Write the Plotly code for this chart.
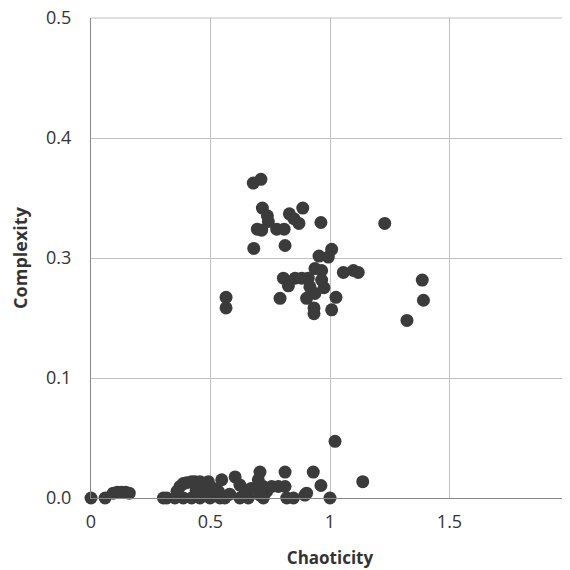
import plotly.graph_objects as go

# Upper cluster (chaoticity, complexity)
upper_x = [0.679, 0.711, 0.717, 0.738, 0.742, 0.696, 0.714, 0.777, 0.808, 0.830,
           0.849, 0.870, 0.886, 0.962, 1.229, 0.681, 0.812, 0.954, 0.993, 1.007,
           0.937, 0.965, 1.056, 1.098, 1.118, 1.386, 1.391, 1.322, 0.565, 0.565,
           0.791, 0.805, 0.826, 0.854, 0.882, 0.909, 0.916, 0.937, 0.902, 0.965,
           0.975, 1.025, 0.933, 0.933, 1.007]
upper_y = [0.328, 0.332, 0.302, 0.294, 0.288, 0.280, 0.279, 0.280, 0.280, 0.296,
           0.291, 0.286, 0.302, 0.287, 0.286, 0.260, 0.263, 0.252, 0.251, 0.259,
           0.239, 0.237, 0.235, 0.237, 0.235, 0.227, 0.206, 0.185, 0.209, 0.198,
           0.208, 0.229, 0.221, 0.229, 0.229, 0.229, 0.220, 0.213, 0.208, 0.227,
           0.219, 0.209, 0.198, 0.192, 0.196]

# Lower cluster
lower_x = [0.0, 0.059, 0.093, 0.110, 0.128, 0.145, 0.160,
           0.303, 0.317, 0.351, 0.386, 0.421, 0.456, 0.498, 0.540,
           0.372, 0.386, 0.400, 0.421, 0.435, 0.456, 0.491, 0.547,
           0.512, 0.533, 0.360, 0.440, 0.470,
           0.603, 0.623, 0.644, 0.623, 0.658,
           0.707, 0.693, 0.721, 0.707, 0.735,
           0.700, 0.756, 0.784, 0.721, 0.812, 0.812, 0.819, 0.847, 0.895, 0.902,
           0.930, 0.962, 1.000, 1.021, 1.137, 0.580, 0.560, 0.670]
lower_y = [0.0, 0.0, 0.005, 0.006, 0.006, 0.006, 0.005,
           0.0, 0.0, 0.0, 0.0, 0.0, 0.0, 0.0, 0.0,
           0.012, 0.015, 0.016, 0.017, 0.017, 0.017, 0.017, 0.019,
           0.010, 0.007, 0.007, 0.008, 0.006,
           0.022, 0.0135, 0.005, 0.0, 0.0,
           0.027, 0.010, 0.012, 0.003, 0.007,
           0.019, 0.012, 0.012, 0.0, 0.027, 0.012, 0.0, 0.0, 0.003, 0.005,
           0.027, 0.013, 0.0, 0.059, 0.017, 0.004, 0.0, 0.010]

x_ticks = [0, 0.5, 1, 1.5, 2]
x_tick_text = ["0", "0.5", "1", "1.5", "2"]
y_ticks = [0, 0.125, 0.25, 0.375, 0.5]
y_tick_text = ["0.0", "0.1", "0.3", "0.4", "0.5"]

xs = upper_x + lower_x
ys = upper_y + lower_y

fig = go.Figure()
fig.add_trace(go.Scatter(
    x=xs, y=ys, mode="markers",
    marker=dict(size=13, color="#3b3b3b", line=dict(width=0)),
    showlegend=False, cliponaxis=False,
))

grid_color = "#C0C0C0"
# outer frame lines at the range ends (top and right gridlines)
fig.add_shape(type="line", xref="paper", yref="paper", x0=0, x1=1, y0=1, y1=1,
              line=dict(color=grid_color, width=1), layer="below")
fig.add_shape(type="line", xref="paper", yref="paper", x0=1, x1=1, y0=0, y1=1,
              line=dict(color=grid_color, width=1), layer="below")

font_family = "Open Sans, Noto Sans, sans-serif"
fig.update_layout(
    width=570, height=570,
    margin=dict(l=83, r=9, t=10, b=80, autoexpand=False),
    paper_bgcolor="white", plot_bgcolor="white",
    font=dict(family=font_family, color="#333333"),
    xaxis=dict(
        range=[0, 2], tickvals=x_ticks, ticktext=x_tick_text,
        showgrid=True, gridcolor=grid_color, gridwidth=1,
        showline=True, linecolor="#888888", linewidth=1,
        zeroline=False, ticks="", ticklabelstandoff=7, automargin=False,
        ticklabeloverflow="allow",
        tickfont=dict(size=18, color="#333333"),
        title=dict(text="<b>Chaoticity</b>", font=dict(size=17, color="#333333"), standoff=20),
    ),
    yaxis=dict(
        range=[0, 0.5], tickvals=y_ticks, ticktext=y_tick_text,
        showgrid=True, gridcolor=grid_color, gridwidth=1,
        showline=True, linecolor="#888888", linewidth=1,
        zeroline=False, ticks="", ticklabelstandoff=15, automargin=False,
        ticklabeloverflow="allow",
        tickfont=dict(size=18, color="#333333"),
        title=dict(text="<b>Complexity</b>", font=dict(size=18, color="#333333"), standoff=14),
    ),
)

fig.write_html("out.html")
